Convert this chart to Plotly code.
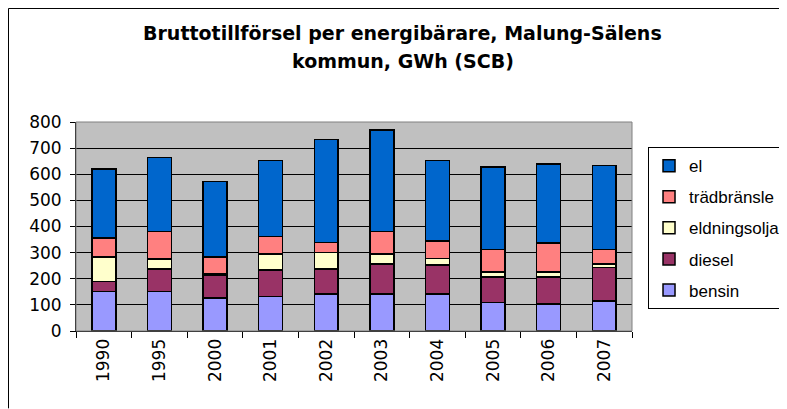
import plotly.graph_objects as go

years = ['1990', '1995', '2000', '2001', '2002', '2003', '2004', '2005', '2006', '2007']
bensin = [152, 152, 127, 133, 141, 141, 141, 110, 104, 115]
diesel = [37, 85, 88, 100, 97, 116, 111, 97, 103, 129]
eldningsolja = [94, 39, 6, 61, 62, 37, 26, 18, 18, 13]
tradbransle = [73, 104, 62, 68, 38, 86, 66, 87, 112, 55]
el = [265, 284, 289, 290, 395, 389, 308, 315, 303, 322]

title_lines = ['Bruttotillförsel per energibärare, Malung-Sälens', 'kommun, GWh (SCB)']

SERIES = [
    ('bensin', bensin, '#9999FF'),
    ('diesel', diesel, '#993366'),
    ('eldningsolja', eldningsolja, '#FFFFCC'),
    ('trädbränsle', tradbransle, '#FF8080'),
    ('el', el, '#0066CC'),
]

FONT = 'DejaVu Sans, Arial, sans-serif'
LEGEND_FONT = 'Liberation Sans, Arial, sans-serif'

fig = go.Figure()
for i, (name, vals, color) in enumerate(SERIES):
    fig.add_trace(go.Bar(
        x=years, y=vals, name=name, legendgroup=name,
        legendrank=len(SERIES) - i,
        marker={'color': color, 'line': {'color': '#000000', 'width': 1.5}},
    ))

# title as two lines, placed separately to get the wide line spacing
for text, ypos in zip(title_lines, [1.4258, 1.2919]):
    fig.add_annotation(
        text=f'<b>{text}</b>', xref='paper', yref='paper', x=0.588, y=ypos,
        xanchor='center', yanchor='middle', showarrow=False,
        font={'size': 19, 'family': FONT, 'color': '#000000'},
    )

# page has an 8px body margin, so the figure is sized 8px smaller
# plot area (figure px): x 68..624, y 114..323
frame = {'color': '#000000', 'width': 1}
fig.update_layout(
    width=779, height=401,
    barmode='stack', bargap=0.57,
    plot_bgcolor='#C0C0C0', paper_bgcolor='white',
    margin={'l': 68, 'r': 155, 't': 114, 'b': 78, 'autoexpand': False},
    font={'family': FONT, 'color': '#000000', 'size': 17},
    legend={
        'x': 1.0288, 'xanchor': 'left', 'y': 0.88, 'yanchor': 'top',
        'tracegroupgap': 6,
        'bordercolor': '#000000', 'borderwidth': 1,
        'font': {'size': 17, 'family': LEGEND_FONT},
        'itemclick': False,
    },
    showlegend=True,
    shapes=[
        # plot area frame
        {'type': 'rect', 'xref': 'paper', 'yref': 'paper', 'x0': 0, 'x1': 1, 'y0': 0, 'y1': 1,
         'line': {'color': '#808080', 'width': 1}, 'layer': 'above'},
        # chart outer frame (left and top edges visible)
        {'type': 'line', 'xref': 'paper', 'yref': 'paper', 'x0': -0.1214, 'x1': -0.1214, 'y0': -0.37, 'y1': 1.5431,
         'line': frame, 'layer': 'above'},
        {'type': 'line', 'xref': 'paper', 'yref': 'paper', 'x0': -0.1214, 'x1': 1.2788, 'y0': 1.5431, 'y1': 1.5431,
         'line': frame, 'layer': 'above'},
    ],
)

fig.update_xaxes(
    type='category', tickangle=-90, tickson='boundaries',
    ticks='outside', ticklen=6, tickcolor='#000000',
    showline=True, linecolor='#000000', linewidth=1,
    showgrid=False, tickfont={'size': 17},
)
fig.update_yaxes(
    range=[0, 800], dtick=100, ticks='outside', ticklen=5, tickcolor='#000000',
    ticklabelstandoff=5,
    showline=True, linecolor='#000000', linewidth=1,
    showgrid=True, gridcolor='#000000', gridwidth=1, zeroline=False,
    tickfont={'size': 17},
)

fig.write_html('out.html')
